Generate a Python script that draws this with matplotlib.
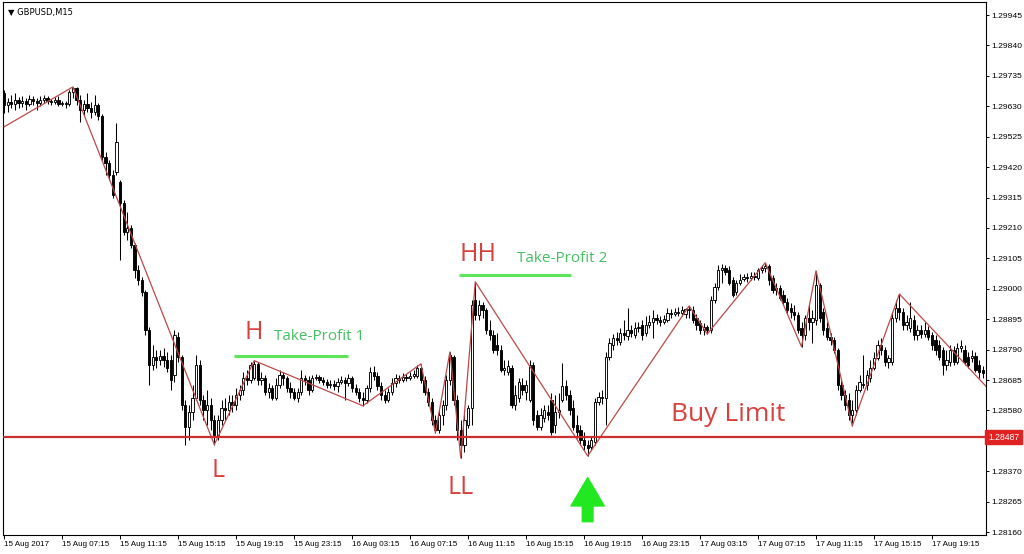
import numpy as np
import matplotlib.pyplot as plt
from matplotlib.transforms import blended_transform_factory

# GBPUSD M15 bars, 15 Aug 03:15 -> 17 Aug ~23:00
opens = [
    1.29676, 1.29635, 1.29645, 1.29638, 1.29652, 1.29642, 1.29649, 1.29638, 1.29655, 1.29649,
    1.29642, 1.29652, 1.29658, 1.29649, 1.29645, 1.29652, 1.29638, 1.29642, 1.29638, 1.29679,
    1.29693, 1.29652, 1.29617, 1.29638, 1.29624, 1.29610, 1.29635, 1.29596, 1.29455, 1.29435,
    1.29393, 1.29403, 1.29369, 1.29297, 1.29196, 1.29210, 1.29152, 1.29065, 1.29031, 1.28989,
    1.28858, 1.28738, 1.28765, 1.28755, 1.28768, 1.28755, 1.28755, 1.28703, 1.28834, 1.28765,
    1.28600, 1.28524, 1.28575, 1.28623, 1.28738, 1.28617, 1.28582, 1.28600, 1.28548, 1.28489,
    1.28548, 1.28589, 1.28582, 1.28610, 1.28600, 1.28634, 1.28651, 1.28692, 1.28686, 1.28692,
    1.28741, 1.28686, 1.28692, 1.28644, 1.28658, 1.28623, 1.28669, 1.28703, 1.28692, 1.28658,
    1.28644, 1.28623, 1.28644, 1.28692, 1.28686, 1.28651, 1.28692, 1.28696, 1.28686, 1.28679,
    1.28669, 1.28672, 1.28665, 1.28679, 1.28686, 1.28676, 1.28692, 1.28658, 1.28644, 1.28623,
    1.28617, 1.28658, 1.28713, 1.28699, 1.28665, 1.28634, 1.28617, 1.28644, 1.28676, 1.28692,
    1.28686, 1.28696, 1.28692, 1.28699, 1.28699, 1.28727, 1.28686, 1.28644, 1.28610, 1.28548,
    1.28513, 1.28565, 1.28600, 1.28686, 1.28765, 1.28617, 1.28513, 1.28462, 1.28531, 1.28589,
    1.28962, 1.28910, 1.28945, 1.28927, 1.28858, 1.28841, 1.28807, 1.28789, 1.28720, 1.28713,
    1.28727, 1.28600, 1.28623, 1.28669, 1.28644, 1.28617, 1.28738, 1.28565, 1.28524, 1.28554,
    1.28575, 1.28617, 1.28531, 1.28575, 1.28617, 1.28665, 1.28634, 1.28589, 1.28531, 1.28513,
    1.28479, 1.28462, 1.28455, 1.28472, 1.28610, 1.28627, 1.28623, 1.28765, 1.28807, 1.28830,
    1.28817, 1.28848, 1.28837, 1.28858, 1.28841, 1.28865, 1.28876, 1.28848, 1.28876, 1.28886,
    1.28899, 1.28893, 1.28886, 1.28893, 1.28917, 1.28913, 1.28920, 1.28917, 1.28913, 1.28931,
    1.28927, 1.28899, 1.28883, 1.28858, 1.28869, 1.28858, 1.28962, 1.29007, 1.29065, 1.29072,
    1.29065, 1.29031, 1.28989, 1.29021, 1.29034, 1.29041, 1.29037, 1.29044, 1.29037, 1.29065,
    1.29072, 1.29079, 1.29037, 1.28996, 1.29003, 1.28979, 1.28955, 1.28934, 1.28920, 1.28910,
    1.28865, 1.28841, 1.28899, 1.28886, 1.28893, 1.29014, 1.28920, 1.28865, 1.28834, 1.28824,
    1.28789, 1.28669, 1.28634, 1.28617, 1.28565, 1.28582, 1.28651, 1.28672, 1.28669, 1.28692,
    1.28727, 1.28761, 1.28807, 1.28789, 1.28748, 1.28748, 1.28899, 1.28934, 1.28920, 1.28876,
    1.28865, 1.28893, 1.28841, 1.28858, 1.28844, 1.28858, 1.28841, 1.28824, 1.28807, 1.28789,
    1.28738, 1.28748, 1.28789, 1.28748, 1.28796, 1.28789, 1.28765, 1.28761, 1.28768, 1.28738,
    1.28720,
]
highs = [
    1.29686, 1.29658, 1.29669, 1.29676, 1.29662, 1.29665, 1.29658, 1.29669, 1.29665, 1.29658,
    1.29665, 1.29669, 1.29665, 1.29655, 1.29662, 1.29665, 1.29649, 1.29649, 1.29686, 1.29697,
    1.29697, 1.29669, 1.29652, 1.29676, 1.29645, 1.29669, 1.29642, 1.29603, 1.29472, 1.29445,
    1.29410, 1.29573, 1.29376, 1.29307, 1.29265, 1.29221, 1.29159, 1.29083, 1.29041, 1.28996,
    1.28869, 1.28807, 1.28789, 1.28789, 1.28796, 1.28782, 1.28772, 1.28858, 1.28851, 1.28772,
    1.28617, 1.28600, 1.28669, 1.28772, 1.28755, 1.28634, 1.28651, 1.28623, 1.28565, 1.28565,
    1.28617, 1.28623, 1.28634, 1.28634, 1.28658, 1.28669, 1.28713, 1.28720, 1.28748, 1.28752,
    1.28748, 1.28713, 1.28703, 1.28676, 1.28669, 1.28692, 1.28720, 1.28713, 1.28699, 1.28679,
    1.28658, 1.28658, 1.28720, 1.28703, 1.28699, 1.28703, 1.28706, 1.28703, 1.28696, 1.28689,
    1.28686, 1.28686, 1.28692, 1.28699, 1.28696, 1.28706, 1.28699, 1.28672, 1.28658, 1.28644,
    1.28669, 1.28731, 1.28734, 1.28713, 1.28679, 1.28651, 1.28658, 1.28692, 1.28706, 1.28703,
    1.28710, 1.28706, 1.28713, 1.28720, 1.28738, 1.28741, 1.28699, 1.28658, 1.28623, 1.28565,
    1.28582, 1.28617, 1.28703, 1.28782, 1.28772, 1.28634, 1.28548, 1.28582, 1.28600, 1.28962,
    1.29024, 1.28962, 1.28955, 1.28934, 1.28893, 1.28858, 1.28848, 1.28807, 1.28755, 1.28755,
    1.28738, 1.28669, 1.28692, 1.28692, 1.28686, 1.28755, 1.28748, 1.28582, 1.28589, 1.28600,
    1.28600, 1.28641, 1.28634, 1.28641, 1.28745, 1.28686, 1.28651, 1.28617, 1.28565, 1.28531,
    1.28506, 1.28479, 1.28492, 1.28623, 1.28644, 1.28651, 1.28782, 1.28830, 1.28844, 1.28851,
    1.28865, 1.28893, 1.28934, 1.28876, 1.28886, 1.28886, 1.28893, 1.28906, 1.28910, 1.28927,
    1.28913, 1.28906, 1.28910, 1.28934, 1.28931, 1.28934, 1.28938, 1.28941, 1.28934, 1.28941,
    1.28941, 1.28913, 1.28893, 1.28883, 1.28876, 1.28975, 1.29021, 1.29083, 1.29086, 1.29083,
    1.29079, 1.29041, 1.29031, 1.29052, 1.29052, 1.29055, 1.29058, 1.29058, 1.29072, 1.29083,
    1.29090, 1.29086, 1.29048, 1.29021, 1.29014, 1.28996, 1.28968, 1.28952, 1.28945, 1.28920,
    1.28886, 1.28910, 1.28945, 1.28927, 1.29062, 1.29021, 1.28934, 1.28886, 1.28848, 1.28834,
    1.28796, 1.28686, 1.28651, 1.28641, 1.28617, 1.28669, 1.28703, 1.28772, 1.28720, 1.28755,
    1.28782, 1.28824, 1.28830, 1.28800, 1.28772, 1.28920, 1.28962, 1.28982, 1.28934, 1.28910,
    1.28955, 1.28910, 1.28876, 1.28876, 1.28886, 1.28872, 1.28851, 1.28841, 1.28824, 1.28800,
    1.28789, 1.28807, 1.28803, 1.28814, 1.28824, 1.28807, 1.28782, 1.28789, 1.28782, 1.28755,
    1.28734,
]
lows = [
    1.29607, 1.29610, 1.29624, 1.29617, 1.29624, 1.29628, 1.29617, 1.29631, 1.29635, 1.29617,
    1.29631, 1.29642, 1.29638, 1.29635, 1.29638, 1.29631, 1.29631, 1.29624, 1.29631, 1.29658,
    1.29635, 1.29576, 1.29600, 1.29610, 1.29589, 1.29600, 1.29583, 1.29445, 1.29393, 1.29376,
    1.29313, 1.29393, 1.29100, 1.29186, 1.29169, 1.29141, 1.29037, 1.29014, 1.28975, 1.28841,
    1.28669, 1.28720, 1.28727, 1.28738, 1.28731, 1.28713, 1.28651, 1.28679, 1.28748, 1.28582,
    1.28462, 1.28479, 1.28548, 1.28617, 1.28600, 1.28548, 1.28531, 1.28513, 1.28462, 1.28479,
    1.28531, 1.28548, 1.28565, 1.28575, 1.28582, 1.28617, 1.28634, 1.28669, 1.28676, 1.28686,
    1.28669, 1.28669, 1.28634, 1.28623, 1.28617, 1.28617, 1.28658, 1.28669, 1.28644, 1.28623,
    1.28617, 1.28610, 1.28634, 1.28669, 1.28634, 1.28644, 1.28686, 1.28676, 1.28669, 1.28658,
    1.28658, 1.28651, 1.28644, 1.28672, 1.28617, 1.28665, 1.28644, 1.28634, 1.28610, 1.28596,
    1.28607, 1.28644, 1.28686, 1.28651, 1.28617, 1.28607, 1.28610, 1.28634, 1.28662, 1.28676,
    1.28679, 1.28683, 1.28686, 1.28692, 1.28692, 1.28676, 1.28634, 1.28596, 1.28531, 1.28503,
    1.28503, 1.28531, 1.28582, 1.28669, 1.28600, 1.28479, 1.28416, 1.28437, 1.28520, 1.28531,
    1.28893, 1.28893, 1.28899, 1.28844, 1.28824, 1.28779, 1.28772, 1.28713, 1.28703, 1.28703,
    1.28589, 1.28582, 1.28610, 1.28634, 1.28617, 1.28610, 1.28531, 1.28513, 1.28513, 1.28541,
    1.28548, 1.28496, 1.28503, 1.28554, 1.28610, 1.28617, 1.28565, 1.28513, 1.28485, 1.28462,
    1.28444, 1.28423, 1.28444, 1.28462, 1.28600, 1.28603, 1.28531, 1.28755, 1.28789, 1.28807,
    1.28807, 1.28824, 1.28824, 1.28834, 1.28830, 1.28851, 1.28824, 1.28837, 1.28865, 1.28830,
    1.28879, 1.28872, 1.28879, 1.28886, 1.28899, 1.28906, 1.28906, 1.28906, 1.28899, 1.28899,
    1.28883, 1.28858, 1.28844, 1.28841, 1.28844, 1.28848, 1.28952, 1.28996, 1.29021, 1.29048,
    1.29014, 1.28972, 1.28979, 1.29014, 1.29028, 1.29024, 1.29031, 1.29031, 1.29031, 1.29055,
    1.29058, 1.29014, 1.28986, 1.28979, 1.28962, 1.28945, 1.28917, 1.28899, 1.28893, 1.28848,
    1.28800, 1.28824, 1.28858, 1.28814, 1.28876, 1.28886, 1.28841, 1.28824, 1.28807, 1.28779,
    1.28651, 1.28617, 1.28582, 1.28548, 1.28527, 1.28565, 1.28644, 1.28658, 1.28651, 1.28679,
    1.28720, 1.28755, 1.28772, 1.28734, 1.28727, 1.28738, 1.28886, 1.28893, 1.28858, 1.28858,
    1.28851, 1.28824, 1.28824, 1.28830, 1.28834, 1.28824, 1.28789, 1.28772, 1.28755, 1.28703,
    1.28720, 1.28734, 1.28738, 1.28741, 1.28782, 1.28738, 1.28727, 1.28748, 1.28713, 1.28692,
    1.28692,
]
closes = [
    1.29635, 1.29645, 1.29638, 1.29652, 1.29642, 1.29649, 1.29638, 1.29655, 1.29649, 1.29642,
    1.29652, 1.29658, 1.29649, 1.29645, 1.29652, 1.29638, 1.29642, 1.29638, 1.29679, 1.29693,
    1.29652, 1.29617, 1.29638, 1.29624, 1.29610, 1.29635, 1.29596, 1.29455, 1.29435, 1.29393,
    1.29324, 1.29507, 1.29297, 1.29196, 1.29210, 1.29152, 1.29065, 1.29031, 1.28989, 1.28858,
    1.28738, 1.28765, 1.28755, 1.28768, 1.28755, 1.28727, 1.28686, 1.28841, 1.28765, 1.28600,
    1.28524, 1.28575, 1.28623, 1.28738, 1.28617, 1.28582, 1.28600, 1.28548, 1.28496, 1.28548,
    1.28589, 1.28582, 1.28610, 1.28600, 1.28634, 1.28651, 1.28692, 1.28686, 1.28738, 1.28741,
    1.28686, 1.28692, 1.28644, 1.28658, 1.28623, 1.28669, 1.28703, 1.28692, 1.28658, 1.28644,
    1.28623, 1.28644, 1.28692, 1.28686, 1.28651, 1.28692, 1.28696, 1.28686, 1.28679, 1.28669,
    1.28672, 1.28665, 1.28679, 1.28686, 1.28676, 1.28692, 1.28658, 1.28644, 1.28623, 1.28617,
    1.28658, 1.28713, 1.28699, 1.28665, 1.28634, 1.28617, 1.28644, 1.28676, 1.28692, 1.28686,
    1.28696, 1.28692, 1.28699, 1.28706, 1.28727, 1.28686, 1.28644, 1.28610, 1.28548, 1.28513,
    1.28565, 1.28600, 1.28686, 1.28772, 1.28617, 1.28513, 1.28462, 1.28548, 1.28589, 1.28945,
    1.28910, 1.28945, 1.28927, 1.28858, 1.28841, 1.28789, 1.28789, 1.28720, 1.28727, 1.28734,
    1.28600, 1.28634, 1.28679, 1.28651, 1.28669, 1.28738, 1.28548, 1.28524, 1.28565, 1.28582,
    1.28565, 1.28506, 1.28575, 1.28582, 1.28665, 1.28634, 1.28582, 1.28524, 1.28506, 1.28479,
    1.28462, 1.28451, 1.28479, 1.28610, 1.28627, 1.28623, 1.28765, 1.28813, 1.28830, 1.28824,
    1.28848, 1.28841, 1.28858, 1.28848, 1.28865, 1.28869, 1.28841, 1.28876, 1.28886, 1.28899,
    1.28893, 1.28886, 1.28896, 1.28917, 1.28913, 1.28920, 1.28917, 1.28927, 1.28931, 1.28927,
    1.28893, 1.28876, 1.28858, 1.28869, 1.28858, 1.28962, 1.29007, 1.29065, 1.29072, 1.29058,
    1.29021, 1.28979, 1.29021, 1.29031, 1.29041, 1.29037, 1.29044, 1.29041, 1.29065, 1.29072,
    1.29079, 1.29031, 1.28996, 1.29003, 1.28968, 1.28955, 1.28927, 1.28920, 1.28910, 1.28858,
    1.28841, 1.28899, 1.28886, 1.28899, 1.29014, 1.28899, 1.28858, 1.28834, 1.28824, 1.28789,
    1.28669, 1.28634, 1.28600, 1.28565, 1.28582, 1.28651, 1.28679, 1.28669, 1.28703, 1.28727,
    1.28761, 1.28807, 1.28789, 1.28748, 1.28761, 1.28899, 1.28934, 1.28920, 1.28876, 1.28886,
    1.28899, 1.28841, 1.28858, 1.28844, 1.28858, 1.28834, 1.28807, 1.28789, 1.28765, 1.28738,
    1.28755, 1.28789, 1.28748, 1.28796, 1.28803, 1.28748, 1.28738, 1.28768, 1.28720, 1.28713,
    1.28710,
]

# zigzag indicator pivots (bar index, price)
zz_bar = [0, 19, 58, 69, 99, 115, 119, 123, 126, 130, 161, 189, 194, 210, 220, 224, 234, 247, 271]
zz_price = [1.29559, 1.29697, 1.28462, 1.28752, 1.28596, 1.28741, 1.28503, 1.28782, 1.28416,
            1.29024, 1.28423, 1.28941, 1.28844, 1.29090, 1.28800, 1.29062, 1.28527, 1.28982, 1.28662]

buy_limit = 1.28487
tp1_level = 1.28768
tp2_level = 1.29048

price_ticks = [1.28160, 1.28265, 1.28370, 1.28475, 1.28580, 1.28685, 1.28790, 1.28895, 1.29000,
               1.29105, 1.29210, 1.29315, 1.29420, 1.29525, 1.29630, 1.29735, 1.29840, 1.29945]
time_labels = ['15 Aug 2017', '15 Aug 07:15', '15 Aug 11:15', '15 Aug 15:15', '15 Aug 19:15',
               '15 Aug 23:15', '16 Aug 03:15', '16 Aug 07:15', '16 Aug 11:15', '16 Aug 15:15',
               '16 Aug 19:15', '16 Aug 23:15', '17 Aug 03:15', '17 Aug 07:15', '17 Aug 11:15',
               '17 Aug 15:15', '17 Aug 19:15']

RED = '#d8413e'
GREEN_TXT = '#45c060'
GREEN_LINE = '#5ee65a'

o = np.array(opens)
h = np.array(highs)
l = np.array(lows)
c = np.array(closes)
bars = np.arange(len(c))
up = c >= o

fig = plt.figure(figsize=(10.24, 5.54), dpi=100)
ax = fig.add_axes([3/1024, 19/554, 983/1024, 533/554])

# candles
ax.vlines(bars, l, h, color='black', lw=0.75, zorder=2)
body_low = np.minimum(o, c)
body_h = np.maximum(np.abs(c - o), 0.000012)
ax.bar(bars, body_h, bottom=body_low, width=0.62,
       color=np.where(up, 'white', 'black'), edgecolor='black', linewidth=0.65, zorder=3)

# zigzag
ax.plot(zz_bar, zz_price, color='#b94a48', lw=0.9, zorder=4)

# buy limit line + price tag (covers the 1.28475 grid label, as in the terminal)
ax.axhline(buy_limit, color='#cc2f2f', lw=1.6, zorder=5)
trans = blended_transform_factory(ax.transAxes, ax.transData)
ax.text(1.002, buy_limit, f'{buy_limit:.5f}', transform=trans, color='white', fontsize=6.2,
        family='Liberation Sans', va='center', ha='left', clip_on=False, zorder=10,
        bbox=dict(boxstyle='square,pad=0.3', fc='#e02222', ec='#e02222'))

# take-profit levels
ax.hlines(tp1_level, 63.4, 94.9, color=GREEN_LINE, lw=2.2, zorder=5)
ax.hlines(tp2_level, 125.5, 156.4, color=GREEN_LINE, lw=2.2, zorder=5)

txt = dict(family='Open Sans', zorder=6)
ax.text(69, 1.28848, 'H', color=RED, fontsize=18, ha='center', va='center', **txt)
ax.text(74.5, 1.28834, 'Take-Profit 1', color=GREEN_TXT, fontsize=11, ha='left', va='center', **txt)
ax.text(130.8, 1.29117, 'HH', color=RED, fontsize=18, ha='center', va='center', **txt)
ax.text(141.5, 1.29103, 'Take-Profit 2', color=GREEN_TXT, fontsize=11, ha='left', va='center', **txt)
ax.text(59, 1.28372, 'L', color=RED, fontsize=18, ha='center', va='center', **txt)
ax.text(126, 1.28313, 'LL', color=RED, fontsize=18, ha='center', va='center', **txt)
ax.text(184, 1.28565, 'Buy Limit', color=RED, fontsize=19, ha='left', va='center', **txt)

ax.annotate('', xy=(161, 1.28348), xytext=(161, 1.28196),
            arrowprops=dict(arrowstyle='simple,head_length=0.85,head_width=1.0,tail_width=0.32',
                            fc='#22e822', ec='#22e822', mutation_scale=24,
                            shrinkA=0, shrinkB=0), zorder=6)

ax.text(0.005, 0.988, '\u25bc GBPUSD,M15', transform=ax.transAxes, fontsize=6,
        family='DejaVu Sans', va='top', ha='left')

ax.set_xlim(-0.3, 270.9)
ax.set_ylim(1.28150, 1.29990)

ax.yaxis.tick_right()
ax.set_yticks(price_ticks)
ylabels = ['' if abs(p - buy_limit) < 0.0003 else f'{p:.5f}' for p in price_ticks]
ax.set_yticklabels(ylabels, family='Liberation Sans', fontsize=6.1)
ax.set_xticks(np.arange(len(time_labels)) * 16)
ax.set_xticklabels(time_labels, family='Liberation Sans', fontsize=5.8, ha='left')
ax.tick_params(axis='y', length=2.5, width=0.7, pad=1.5)
ax.tick_params(axis='x', length=3, width=0.7, pad=1.5)
for s in ax.spines.values():
    s.set_linewidth(0.8)

fig.savefig('out.png', dpi=100)
